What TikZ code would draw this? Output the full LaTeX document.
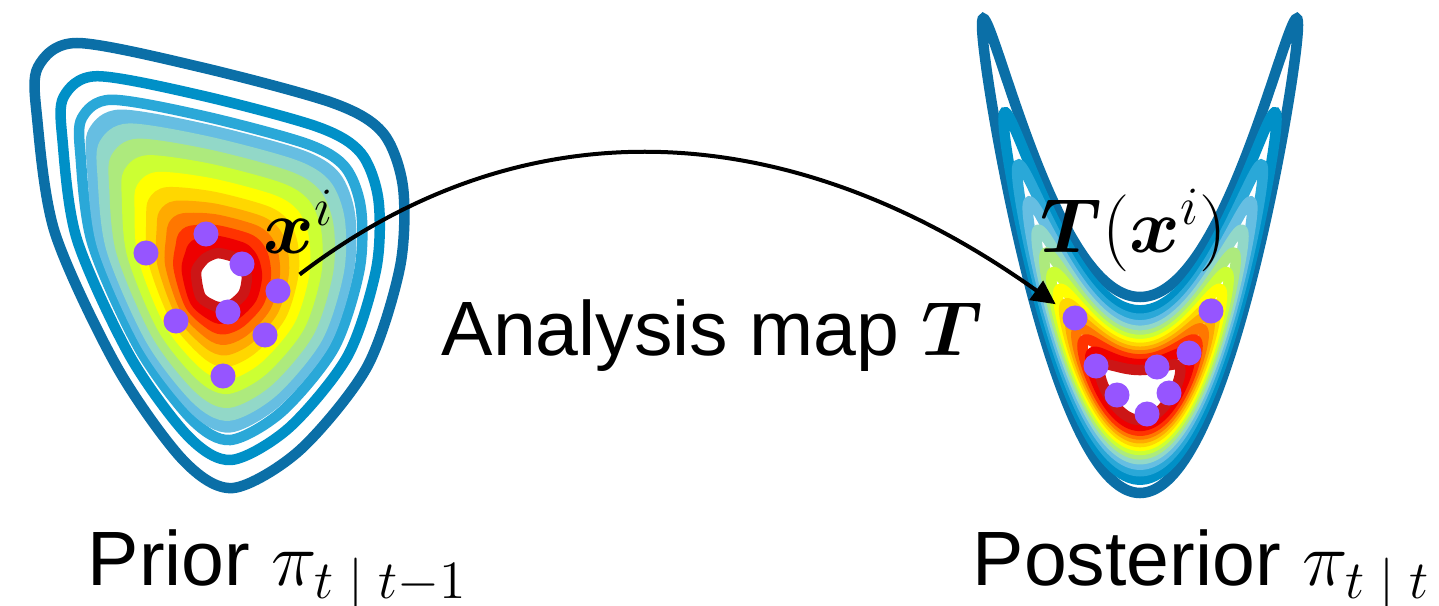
\RequirePackage{fix-cm}
\documentclass[tikz,border=0pt]{standalone}
\usepackage[no-math]{fontspec}
\setmainfont{Liberation Sans}
\usepackage{bm}
\usetikzlibrary{arrows.meta}
\usetikzlibrary{calc}

\definecolor{lvl0}{RGB}{11,111,167}
\definecolor{lvl1}{RGB}{0,144,199}
\definecolor{lvl2}{RGB}{42,168,216}
\definecolor{lvl3}{RGB}{102,190,226}
\definecolor{lvl4}{RGB}{146,216,200}
\definecolor{lvl5}{RGB}{173,234,125}
\definecolor{lvl6}{RGB}{204,255,51}
\definecolor{lvl7}{RGB}{255,255,0}
\definecolor{lvl8}{RGB}{255,215,0}
\definecolor{lvl9}{RGB}{255,170,0}
\definecolor{lvl10}{RGB}{255,119,0}
\definecolor{lvl11}{RGB}{255,51,0}
\definecolor{lvl12}{RGB}{238,0,0}
\definecolor{lvl13}{RGB}{204,22,22}
\definecolor{particle}{RGB}{150,85,255}

\begin{document}
\begin{tikzpicture} [
        x=0.01cm, y=-0.01cm,
        contour/.style={
            line width=0.105cm},
        particle/.style={
            circle,
            fill=particle,
            inner sep=0pt,
            minimum size=0.25cm},
        caption/.style={
            anchor=base west,
            inner sep=0pt,
            font=\fontsize{21.9}{26}\selectfont},
        map/.style={
            line width=0.04cm,
            -{Triangle[length=0.24cm,width=0.23cm]}}]

    \useasboundingbox (0,0) rectangle (1439,606);

    %prior: outer and inner contour, levels in between
    \foreach \x/\y [count=\i] in {38/67, 77/43, 200/67, 333/103, 383/133, 403/187, 400/267,
            367/367, 300/450, 233/488, 183/460, 117/367, 55/233, 37/117}
        \coordinate (o\i) at (\x,\y);
    \foreach \x/\y [count=\i] in {203.6/259.9, 207.1/257.2, 218.2/253.1, 235.2/257.4,
            240.5/262.2, 244.3/268.0, 246.9/278.1, 243.5/293.5, 232.2/304.4,
            223.3/306.9, 215.3/306.3, 200.7/296.8, 196.0/272.7, 201.2/262.5}
        \coordinate (c\i) at (\x,\y);
    \foreach \w/\fc [count=\k from 0] in {1/none,0.845/none,0.735/none,0.665/lvl3,
            0.6/lvl4,0.529/lvl5,0.452/lvl6,0.374/lvl7,0.303/lvl8,0.239/lvl9,
            0.181/lvl10,0.123/lvl11,0.065/lvl12,0/white} {
        \foreach \i in {1,...,14}
            \coordinate (p\i) at ($(c\i)!\w!(o\i)$);
        \draw[contour,color=lvl\k,fill=\fc] plot[smooth cycle] coordinates {(p1) (p2) (p3)
            (p4) (p5) (p6) (p7) (p8) (p9) (p10) (p11) (p12) (p13) (p14)};
    }

    %posterior: banana levels
    \foreach \r [count=\k from 0] in {1,0.864,0.778,0.711,0.655,0.606,0.561,
            0.519,0.480,0.441,0.403,0.364,0.315,0.255} {
        \draw[contour,color=lvl\k] plot[smooth cycle,domain=0:357.5,samples=144,variable=\t]
            ({1140+158*\r*cos(\t)},{395-370*\r*\r*cos(\t)*cos(\t)-98*\r*sin(\t)});
    }

    %particles
    \foreach \x/\y [count=\i] in {146/253, 206/234, 242/264, 278/291, 228/312,
            176/321, 265/335, 223/376}
        \node[particle] (prior\i) at (\x,\y) {};
    \foreach \x/\y [count=\i] in {1075/318, 1211/311, 1096/366, 1189/353, 1157/367,
            1117/395, 1169/393, 1147/414}
        \node[particle] (post\i) at (\x,\y) {};

    %analysis map
    \draw[map,shorten <=0.14cm,shorten >=0.105cm] (prior4) .. controls (528,100) and (793,117) .. (post1);

    %labels
    \node[caption] (xi) at (263,253) {$\bm{x}^i$};
    \node[caption] (Txi) at (1040,252) {$\bm{T}(\bm{x}^i)$};
    \node[caption] (analysis) at (441,355) {Analysis map $\bm{T}$};
    \node[caption] (prior) at (87,585) {Prior $\pi_{t\;|\;t-1}$};
    \node[caption] (posterior) at (972,585) {Posterior $\pi_{t\;|\;t}$};

\end{tikzpicture}
\end{document}
